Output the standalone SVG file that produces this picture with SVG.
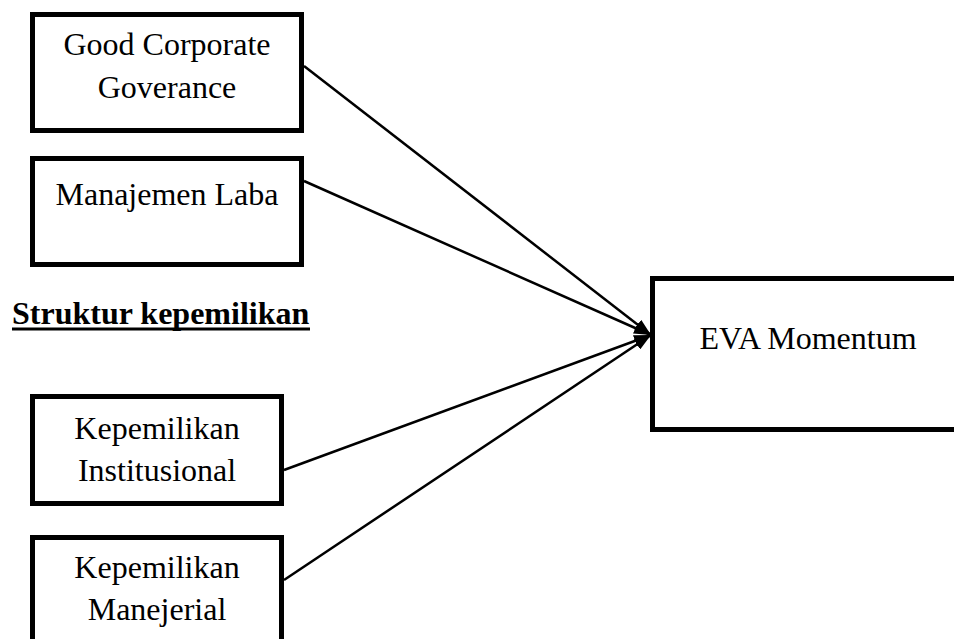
<svg xmlns="http://www.w3.org/2000/svg" width="954" height="639" viewBox="0 0 954 639">
<defs>
<marker id="ah" markerUnits="userSpaceOnUse" markerWidth="18" markerHeight="12" refX="17" refY="6" orient="auto">
<path d="M0,0 L17,6 L0,12 Z" fill="#000"/>
</marker>
<style>
.box{fill:#fff;stroke:#000;stroke-width:5}
.t{font-family:"Liberation Serif","Times New Roman",serif;font-size:32px;fill:#000;text-anchor:middle}
.h{font-family:"Liberation Serif","Times New Roman",serif;font-size:32px;font-weight:bold;fill:#000}
.c{fill:none;stroke:#000;stroke-width:2.5}
</style>
</defs>
<rect width="954" height="639" fill="#fff"/>
<g id="connectors">
<line class="c" x1="304" y1="66" x2="651" y2="335" marker-end="url(#ah)"/>
<line class="c" x1="304" y1="181" x2="651" y2="335" marker-end="url(#ah)"/>
<line class="c" x1="284" y1="470" x2="651" y2="335" marker-end="url(#ah)"/>
<line class="c" x1="284" y1="580" x2="651" y2="335" marker-end="url(#ah)"/>
</g>
<g id="gcg">
<rect class="box" x="32.5" y="14.5" width="269" height="116"/>
<text class="t" x="167" y="55">Good Corporate</text>
<text class="t" x="167" y="98">Goverance</text>
</g>
<g id="ml">
<rect class="box" x="32.5" y="158.5" width="269" height="106"/>
<text class="t" x="167" y="205">Manajemen Laba</text>
</g>
<g id="sk">
<text class="h" x="12" y="324">Struktur kepemilikan</text>
<rect x="12" y="327.5" width="298" height="3" fill="#000"/>
</g>
<g id="ki">
<rect class="box" x="32.5" y="396.5" width="249" height="107"/>
<text class="t" x="157" y="439">Kepemilikan</text>
<text class="t" x="157" y="481">Institusional</text>
</g>
<g id="km">
<rect class="box" x="32.5" y="537.5" width="249" height="140"/>
<text class="t" x="157" y="578">Kepemilikan</text>
<text class="t" x="157" y="620">Manejerial</text>
</g>
<g id="eva">
<rect class="box" x="652.5" y="278.5" width="400" height="151"/>
<text class="t" x="808" y="349">EVA Momentum</text>
</g>
</svg>
